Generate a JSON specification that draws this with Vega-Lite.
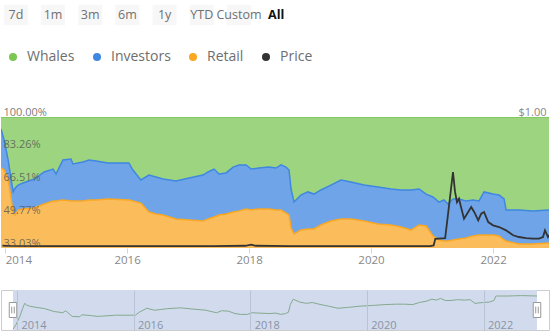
{
  "$schema": "https://vega.github.io/schema/vega-lite/v6.json",
  "padding": 0,
  "background": "white",
  "config": {"font": "Open Sans", "view": {"stroke": null}},
  "spacing": 42,
  "bounds": "flush",
  "resolve": {"scale": {"color": "independent"}, "legend": {"color": "independent"}},
  "datasets": {
    "groups": [
      {"group": "Retail", "rank": 1},
      {"group": "Investors", "rank": 2},
      {"group": "Whales", "rank": 3}
    ],
    "range": [{"from": "2013-12-07", "to": "2022-12-02"}],
    "holders": [
      {"date": "2013-12-07", "Whales": 6.1, "Investors": 19.9, "Retail": 74.0},
      {"date": "2013-12-26", "Whales": 11.8, "Investors": 15.3, "Retail": 72.9},
      {"date": "2014-01-19", "Whales": 22.0, "Investors": 10.2, "Retail": 67.8},
      {"date": "2014-02-06", "Whales": 32.2, "Investors": 9.7, "Retail": 58.1},
      {"date": "2014-02-18", "Whales": 38.3, "Investors": 10.8, "Retail": 50.9},
      {"date": "2014-03-02", "Whales": 36.3, "Investors": 13.8, "Retail": 49.9},
      {"date": "2014-03-20", "Whales": 34.8, "Investors": 12.7, "Retail": 52.5},
      {"date": "2014-04-18", "Whales": 33.7, "Investors": 13.3, "Retail": 53.0},
      {"date": "2014-06-24", "Whales": 31.7, "Investors": 14.8, "Retail": 53.5},
      {"date": "2014-08-22", "Whales": 28.1, "Investors": 16.4, "Retail": 55.5},
      {"date": "2014-10-15", "Whales": 26.6, "Investors": 16.3, "Retail": 57.1},
      {"date": "2014-11-02", "Whales": 29.1, "Investors": 13.8, "Retail": 57.1},
      {"date": "2014-12-13", "Whales": 22.0, "Investors": 20.4, "Retail": 57.6},
      {"date": "2015-01-30", "Whales": 21.5, "Investors": 21.4, "Retail": 57.1},
      {"date": "2015-02-11", "Whales": 24.0, "Investors": 18.9, "Retail": 57.1},
      {"date": "2015-04-12", "Whales": 23.0, "Investors": 19.9, "Retail": 57.1},
      {"date": "2015-05-18", "Whales": 22.0, "Investors": 20.4, "Retail": 57.6},
      {"date": "2015-06-29", "Whales": 22.5, "Investors": 19.9, "Retail": 57.6},
      {"date": "2015-09-09", "Whales": 23.5, "Investors": 18.4, "Retail": 58.1},
      {"date": "2016-01-12", "Whales": 23.5, "Investors": 18.9, "Retail": 57.6},
      {"date": "2016-02-05", "Whales": 27.1, "Investors": 15.8, "Retail": 57.1},
      {"date": "2016-03-24", "Whales": 32.2, "Investors": 11.8, "Retail": 56.0},
      {"date": "2016-05-11", "Whales": 29.7, "Investors": 18.9, "Retail": 51.4},
      {"date": "2016-06-22", "Whales": 30.7, "Investors": 18.9, "Retail": 50.4},
      {"date": "2016-08-03", "Whales": 31.7, "Investors": 18.4, "Retail": 49.9},
      {"date": "2016-10-20", "Whales": 32.7, "Investors": 19.4, "Retail": 47.9},
      {"date": "2017-01-06", "Whales": 31.2, "Investors": 21.4, "Retail": 47.4},
      {"date": "2017-03-31", "Whales": 29.7, "Investors": 23.5, "Retail": 46.8},
      {"date": "2017-04-30", "Whales": 28.1, "Investors": 24.0, "Retail": 47.9},
      {"date": "2017-06-05", "Whales": 26.6, "Investors": 24.5, "Retail": 48.9},
      {"date": "2017-07-05", "Whales": 29.1, "Investors": 21.0, "Retail": 49.9},
      {"date": "2017-08-16", "Whales": 28.6, "Investors": 21.0, "Retail": 50.4},
      {"date": "2017-09-27", "Whales": 25.6, "Investors": 23.0, "Retail": 51.4},
      {"date": "2017-11-02", "Whales": 24.5, "Investors": 23.5, "Retail": 52.0},
      {"date": "2017-12-14", "Whales": 24.5, "Investors": 22.5, "Retail": 53.0},
      {"date": "2018-01-13", "Whales": 26.6, "Investors": 20.9, "Retail": 52.5},
      {"date": "2018-03-01", "Whales": 26.1, "Investors": 20.9, "Retail": 53.0},
      {"date": "2018-04-30", "Whales": 25.6, "Investors": 21.4, "Retail": 53.0},
      {"date": "2018-06-11", "Whales": 26.1, "Investors": 21.4, "Retail": 52.5},
      {"date": "2018-07-11", "Whales": 24.5, "Investors": 23.0, "Retail": 52.5},
      {"date": "2018-08-10", "Whales": 25.6, "Investors": 23.5, "Retail": 50.9},
      {"date": "2018-08-28", "Whales": 27.1, "Investors": 23.0, "Retail": 49.9},
      {"date": "2018-09-09", "Whales": 36.8, "Investors": 19.9, "Retail": 43.3},
      {"date": "2018-09-27", "Whales": 43.5, "Investors": 16.3, "Retail": 40.2},
      {"date": "2018-11-07", "Whales": 39.9, "Investors": 17.9, "Retail": 42.2},
      {"date": "2018-12-19", "Whales": 38.3, "Investors": 18.9, "Retail": 42.8},
      {"date": "2019-01-24", "Whales": 39.4, "Investors": 17.8, "Retail": 42.8},
      {"date": "2019-03-07", "Whales": 37.3, "Investors": 17.9, "Retail": 44.8},
      {"date": "2019-05-06", "Whales": 34.8, "Investors": 18.4, "Retail": 46.8},
      {"date": "2019-07-05", "Whales": 32.2, "Investors": 19.9, "Retail": 47.9},
      {"date": "2019-09-03", "Whales": 33.2, "Investors": 18.9, "Retail": 47.9},
      {"date": "2019-11-20", "Whales": 34.8, "Investors": 18.4, "Retail": 46.8},
      {"date": "2020-02-12", "Whales": 35.8, "Investors": 18.9, "Retail": 45.3},
      {"date": "2020-04-30", "Whales": 36.8, "Investors": 18.4, "Retail": 44.8},
      {"date": "2020-06-29", "Whales": 37.3, "Investors": 18.9, "Retail": 43.8},
      {"date": "2020-08-28", "Whales": 37.3, "Investors": 20.5, "Retail": 42.2},
      {"date": "2020-10-15", "Whales": 36.8, "Investors": 18.4, "Retail": 44.8},
      {"date": "2020-11-26", "Whales": 39.4, "Investors": 16.3, "Retail": 44.3},
      {"date": "2021-01-06", "Whales": 40.9, "Investors": 19.9, "Retail": 39.2},
      {"date": "2021-02-11", "Whales": 43.5, "Investors": 19.4, "Retail": 37.1},
      {"date": "2021-03-13", "Whales": 42.4, "Investors": 21.0, "Retail": 36.6},
      {"date": "2021-04-06", "Whales": 44.5, "Investors": 18.9, "Retail": 36.6},
      {"date": "2021-05-06", "Whales": 41.9, "Investors": 21.0, "Retail": 37.1},
      {"date": "2021-06-11", "Whales": 41.9, "Investors": 20.5, "Retail": 37.6},
      {"date": "2021-07-23", "Whales": 42.9, "Investors": 18.9, "Retail": 38.2},
      {"date": "2021-09-03", "Whales": 42.4, "Investors": 18.4, "Retail": 39.2},
      {"date": "2021-10-09", "Whales": 42.9, "Investors": 17.4, "Retail": 39.7},
      {"date": "2021-11-08", "Whales": 38.3, "Investors": 22.0, "Retail": 39.7},
      {"date": "2022-01-01", "Whales": 39.4, "Investors": 20.9, "Retail": 39.7},
      {"date": "2022-02-06", "Whales": 39.9, "Investors": 20.9, "Retail": 39.2},
      {"date": "2022-03-08", "Whales": 41.9, "Investors": 21.0, "Retail": 37.1},
      {"date": "2022-03-20", "Whales": 47.5, "Investors": 15.9, "Retail": 36.6},
      {"date": "2022-06-05", "Whales": 47.5, "Investors": 17.4, "Retail": 35.1},
      {"date": "2022-08-28", "Whales": 48.0, "Investors": 16.9, "Retail": 35.1},
      {"date": "2022-12-02", "Whales": 47.5, "Investors": 16.9, "Retail": 35.6}
    ],
    "price": [
      {"date": "2013-12-15", "price": 0.018},
      {"date": "2014-02-01", "price": 0.016},
      {"date": "2014-06-01", "price": 0.015},
      {"date": "2015-01-01", "price": 0.014},
      {"date": "2016-01-01", "price": 0.014},
      {"date": "2017-01-01", "price": 0.014},
      {"date": "2017-06-01", "price": 0.015},
      {"date": "2017-12-10", "price": 0.017},
      {"date": "2018-01-13", "price": 0.026},
      {"date": "2018-02-10", "price": 0.017},
      {"date": "2018-09-01", "price": 0.015},
      {"date": "2019-06-01", "price": 0.015},
      {"date": "2020-06-01", "price": 0.014},
      {"date": "2020-12-20", "price": 0.015},
      {"date": "2021-01-10", "price": 0.02},
      {"date": "2021-01-20", "price": 0.07},
      {"date": "2021-03-20", "price": 0.076},
      {"date": "2021-04-08", "price": 0.275},
      {"date": "2021-05-06", "price": 0.58},
      {"date": "2021-05-18", "price": 0.43},
      {"date": "2021-05-30", "price": 0.35},
      {"date": "2021-06-11", "price": 0.376},
      {"date": "2021-06-23", "price": 0.313},
      {"date": "2021-07-11", "price": 0.224},
      {"date": "2021-08-05", "price": 0.275},
      {"date": "2021-08-23", "price": 0.313},
      {"date": "2021-09-10", "price": 0.275},
      {"date": "2021-10-04", "price": 0.211},
      {"date": "2021-10-22", "price": 0.262},
      {"date": "2021-11-08", "price": 0.275},
      {"date": "2021-12-03", "price": 0.198},
      {"date": "2022-01-01", "price": 0.173},
      {"date": "2022-02-06", "price": 0.16},
      {"date": "2022-03-20", "price": 0.135},
      {"date": "2022-05-01", "price": 0.097},
      {"date": "2022-06-05", "price": 0.084},
      {"date": "2022-07-17", "price": 0.076},
      {"date": "2022-08-28", "price": 0.071},
      {"date": "2022-10-03", "price": 0.071},
      {"date": "2022-10-27", "price": 0.084},
      {"date": "2022-11-08", "price": 0.135},
      {"date": "2022-11-26", "price": 0.084},
      {"date": "2022-12-02", "price": 0.099}
    ]
  },
  "vconcat": [
    {
      "width": 290,
      "height": 75,
      "data": {"values": [
        {"label": "7d"}, {"label": "1m"}, {"label": "3m"}, {"label": "6m"},
        {"label": "1y"}, {"label": "YTD"}, {"label": "Custom"}, {"label": "All"}
      ]},
      "encoding": {
        "x": {"field": "label", "type": "nominal", "axis": null,
          "scale": {"type": "point", "padding": 0.4, "domain": ["7d", "1m", "3m", "6m", "1y", "YTD", "Custom", "All"]}}
      },
      "layer": [
        {
          "transform": [{"filter": "datum.label !== 'All'"}],
          "mark": {"type": "point", "shape": "M-1,-0.85H1V0.85H-1Z", "size": 576, "filled": true, "color": "#f7f7f7", "opacity": 1, "yOffset": -22.5}
        },
        {
          "transform": [{"filter": "datum.label !== 'All'"}],
          "mark": {"type": "text", "fontSize": 12.5, "color": "#707070", "baseline": "middle", "dy": -22.5},
          "encoding": {"text": {"field": "label"}}
        },
        {
          "transform": [{"filter": "datum.label === 'All'"}],
          "mark": {"type": "text", "fontSize": 12.5, "fontWeight": "bold", "color": "#111111", "baseline": "middle", "dy": -22.5},
          "encoding": {"text": {"field": "label"}}
        }
      ]
    },
    {
      "width": 548,
      "height": 131,
      "resolve": {"scale": {"y": "independent"}},
      "layer": [
        {
          "data": {"name": "holders"},
          "transform": [
            {"fold": ["Whales", "Investors", "Retail"], "as": ["group", "share"]},
            {"lookup": "group", "from": {"data": {"name": "groups"}, "key": "group", "fields": ["rank"]}}
          ],
          "mark": {"type": "area", "clip": true, "fillOpacity": 0.75, "line": {"strokeWidth": 1.5, "clip": true}},
          "encoding": {
            "x": {"field": "date", "type": "temporal",
              "scale": {"domain": [{"year": 2013, "month": 12, "date": 7}, {"year": 2022, "month": 12, "date": 2}]},
              "axis": {"title": null, "values": [{"year": 2014, "month": 1, "date": 1}, {"year": 2016, "month": 1, "date": 1}, {"year": 2018, "month": 1, "date": 1}, {"year": 2020, "month": 1, "date": 1}, {"year": 2022, "month": 1, "date": 1}],
                "format": "%Y", "labelFontSize": 11.5, "labelColor": "#888888", "tickSize": 5, "tickColor": "#ccd6eb", "domain": false, "grid": false, "labelPadding": 1, "labelFlush": 5}},
            "y": {"field": "share", "type": "quantitative", "stack": "zero",
              "scale": {"domain": [33.03, 100], "nice": false, "zero": false},
              "axis": {"title": null, "values": [33.03, 49.77, 66.51, 83.26, 100], "labelExpr": "format(datum.value, '.2f') + '%'",
                "labelAlign": "left", "labelBaseline": "bottom", "labelPadding": -2, "tickSize": 0, "ticks": false, "domain": false, "grid": false,
                "labelBound": false, "labelFlush": false, "labelOverlap": false, "labelColor": "#555555", "labelOpacity": 0.8, "labelFontSize": 11, "zindex": 2}},
            "color": {"field": "group", "type": "nominal",
              "scale": {"domain": ["Whales", "Investors", "Retail", "Price"], "range": ["#7cc654", "#3f87e0", "#faa724", "#333333"]},
              "legend": {"title": null, "orient": "none", "legendX": 5, "legendY": -67, "direction": "horizontal",
                "symbolType": "circle", "symbolSize": 64, "symbolOpacity": 1, "symbolStrokeWidth": 0,
                "labelFontSize": 14, "labelColor": "#6e6e6e", "columnPadding": 15, "labelOffset": 7}},
            "order": {"field": "rank", "type": "quantitative"}
          }
        },
        {
          "data": {"name": "price"},
          "mark": {"type": "line", "clip": true, "strokeWidth": 1.8},
          "encoding": {
            "x": {"field": "date", "type": "temporal"},
            "y": {"field": "price", "type": "quantitative", "scale": {"domain": [0, 1], "nice": false},
              "axis": {"orient": "right", "title": null, "values": [1], "labelExpr": "'$' + format(datum.value, '.2f')",
                "labelAlign": "right", "labelBaseline": "bottom", "labelPadding": -3, "tickSize": 0, "ticks": false, "domain": false, "grid": false,
                "labelBound": false, "labelFlush": false, "labelColor": "#888888", "labelFontSize": 11, "zindex": 2}},
            "color": {"datum": "Price"}
          }
        }
      ]
    },
    {
      "width": 548,
      "height": 40,
      "view": {"stroke": "#cccccc"},
      "layer": [
        {
          "data": {"name": "range"},
          "mark": {"type": "rect", "color": "#d1dbed", "opacity": 1},
          "encoding": {
            "x": {"field": "from", "type": "temporal",
              "scale": {"domain": [{"year": 2013, "month": 12, "date": 7}, {"year": 2022, "month": 12, "date": 2}], "padding": 12},
              "axis": {"title": null, "values": [{"year": 2014, "month": 1, "date": 1}, {"year": 2016, "month": 1, "date": 1}, {"year": 2018, "month": 1, "date": 1}, {"year": 2020, "month": 1, "date": 1}, {"year": 2022, "month": 1, "date": 1}],
                "format": "%Y", "grid": true, "gridColor": "#b9c3d6", "ticks": false, "tickSize": 0, "domain": false,
                "labelAlign": "left", "labelBaseline": "middle", "labelPadding": -5, "labelOffset": 4, "labelColor": "#8a93a3", "labelFontSize": 11, "labelFlush": false, "zindex": 1}},
            "x2": {"field": "to"}
          }
        },
        {
          "data": {"name": "holders"},
          "mark": {"type": "line", "color": "#86a98e", "strokeWidth": 1},
          "encoding": {
            "x": {"field": "date", "type": "temporal"},
            "y": {"field": "Whales", "type": "quantitative", "scale": {"domain": [5, 55], "nice": false, "zero": false}, "axis": null}
          }
        },
        {
          "data": {"name": "range"},
          "mark": {"type": "point", "shape": "M-0.5,-1H0.5V1H-0.5Z M-0.17,-0.45V0.45 M0.17,-0.45V0.45", "size": 225, "filled": false, "fill": "#ffffff", "stroke": "#999999", "strokeWidth": 1, "opacity": 1},
          "encoding": {"x": {"field": "from", "type": "temporal"}}
        },
        {
          "data": {"name": "range"},
          "mark": {"type": "point", "shape": "M-0.5,-1H0.5V1H-0.5Z M-0.17,-0.45V0.45 M0.17,-0.45V0.45", "size": 225, "filled": false, "fill": "#ffffff", "stroke": "#999999", "strokeWidth": 1, "opacity": 1},
          "encoding": {"x": {"field": "to", "type": "temporal"}}
        }
      ]
    }
  ]
}
